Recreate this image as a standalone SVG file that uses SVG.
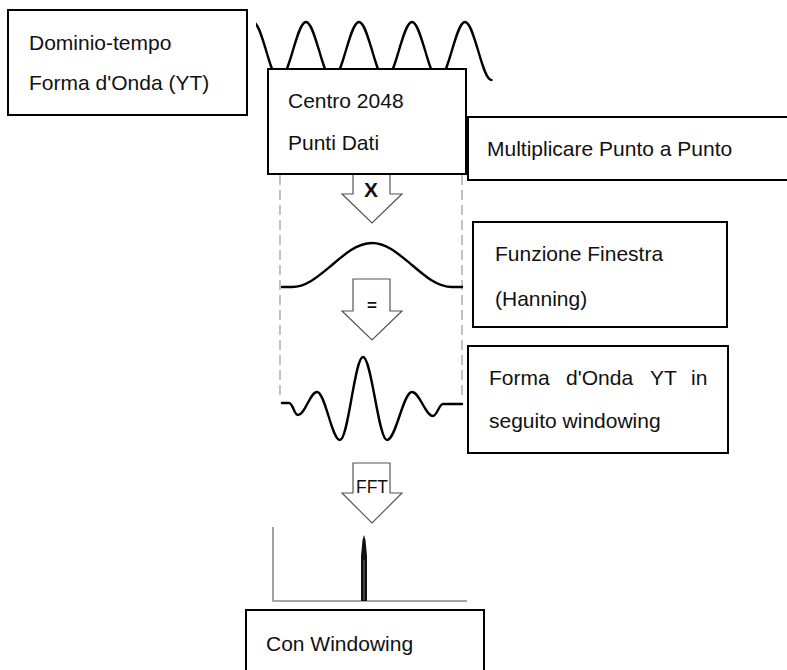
<svg xmlns="http://www.w3.org/2000/svg" width="787" height="670" viewBox="0 0 787 670">
<style>
.box{fill:#fff;stroke:#000;stroke-width:2}
.lbl{font-family:"Liberation Sans",Arial,sans-serif;font-size:21px;fill:#111}
.wave{fill:none;stroke:#000;stroke-width:2.4;stroke-linejoin:round;stroke-linecap:round}
.dash{stroke:#999;stroke-width:1.2;stroke-dasharray:10 5;fill:none}
.barrow{fill:#fff;stroke:#555;stroke-width:1.2;stroke-linejoin:miter}
.axis{stroke:#8a8a8a;stroke-width:1.6;fill:none}
</style>
<defs>
<clipPath id="wclip"><rect x="256" y="0" width="260" height="100"/></clipPath>
</defs>
<rect width="787" height="670" fill="#fff"/>

<g id="time-wave">
<path class="wave" clip-path="url(#wclip)" d="M253,22 c4.8,0 8.93,14.86 13.25,29 c4.32,14.86 8.45,29 13.25,29 c4.8,0 8.93,-14.86 13.25,-29 c4.32,-14.86 8.45,-29 13.25,-29 c4.8,0 8.93,14.86 13.25,29 c4.32,14.86 8.45,29 13.25,29 c4.8,0 8.93,-14.86 13.25,-29 c4.32,-14.86 8.45,-29 13.25,-29 c4.8,0 8.93,14.86 13.25,29 c4.32,14.86 8.45,29 13.25,29 c4.8,0 8.93,-14.86 13.25,-29 c4.32,-14.86 8.45,-29 13.25,-29 c4.8,0 8.93,14.86 13.25,29 c4.32,14.86 8.45,29 13.25,29 c4.8,0 8.93,-14.86 13.25,-29 c4.32,-14.86 8.45,-29 13.25,-29 c4.8,0 8.93,14.86 13.25,29 c4.32,14.86 8.45,29 13.25,29"/>
</g>

<g id="window-frame">
<line class="dash" x1="280" y1="175" x2="280" y2="396"/>
<line class="dash" x1="462" y1="175" x2="462" y2="396"/>
</g>

<g id="hanning-curve">
<path class="wave" d="M282,287 L292,287 c14.48,0 26.95,-11.27 40,-22 c13.05,-11.27 25.52,-22 40,-22 c14.48,0 26.95,11.27 40,22 c13.05,11.27 25.52,22 40,22 L462,287"/>
</g>

<g id="windowed-wave">
<path class="wave" d="M282,403 L289,403 C293,403 294,415 298,415 C305,415 310,392 317,392 C325.3,392 331.7,440 340,440 C348.3,440 354.7,357 363,357 C371.6,357 378.4,440 387,440 C396,440 403,392 412,392 C419.6,392 425.4,416 433,416 C437,416 439,404 443,404 L462,404"/>
</g>

<g id="spectrum">
<polyline class="axis" points="273,527 273,601 467,601"/>
<path d="M361,601 L361,556 L362.5,540 L364,535 L365.5,540 L367,556 L367,601 Z" fill="#111"/>
<line x1="364" y1="560" x2="364" y2="600" stroke="#777" stroke-width="1"/>
</g>

<g id="node-time-domain">
<rect class="box" x="8" y="10" width="239" height="105"/>
<text class="lbl" x="29" y="50">Dominio-tempo</text>
<text class="lbl" x="29" y="90">Forma d'Onda (YT)</text>
</g>

<g id="node-center-points">
<rect class="box" x="268" y="69" width="198" height="105"/>
<text class="lbl" x="288" y="108">Centro 2048</text>
<text class="lbl" x="288" y="150">Punti Dati</text>
</g>

<g id="node-multiply">
<rect class="box" x="468" y="117" width="330" height="63"/>
<text class="lbl" x="487" y="156">Multiplicare Punto a Punto</text>
</g>

<g id="node-window-function">
<rect class="box" x="473" y="222" width="254" height="105"/>
<text class="lbl" x="495" y="261">Funzione Finestra</text>
<text class="lbl" x="495" y="306">(Hanning)</text>
</g>

<g id="node-windowed">
<rect class="box" x="468" y="346" width="260" height="107"/>
<text class="lbl" x="489" y="385">Forma</text>
<text class="lbl" x="566" y="385">d'Onda</text>
<text class="lbl" x="650" y="385">YT</text>
<text class="lbl" x="691" y="385">in</text>
<text class="lbl" x="489" y="428">seguito windowing</text>
</g>

<g id="node-with-windowing">
<rect class="box" x="246" y="610" width="238" height="70"/>
<text class="lbl" x="266" y="651">Con Windowing</text>
</g>

<g id="connectors">
<g id="arrow-multiply">
<path class="barrow" d="M353,175 L353,194 L342,194 L372,223 L402,194 L390,194 L390,175"/>
<text x="371" y="197" text-anchor="middle" font-family="Liberation Sans,Arial,sans-serif" font-weight="bold" font-size="21" fill="#111">X</text>
</g>
<g id="arrow-equals">
<path class="barrow" d="M353,279 L353,311 L342,311 L372,340 L402,311 L390,311 L390,279 Z"/>
<text x="372" y="311" text-anchor="middle" font-family="Liberation Sans,Arial,sans-serif" font-weight="bold" font-size="17" fill="#111">=</text>
</g>
<g id="arrow-fft">
<path class="barrow" d="M353,463 L353,493 L342,493 L372,523 L402,493 L390,493 L390,463 Z"/>
<text x="372" y="493" text-anchor="middle" font-family="Liberation Sans,Arial,sans-serif" font-size="17.5" fill="#111">FFT</text>
</g>
</g>
</svg>
